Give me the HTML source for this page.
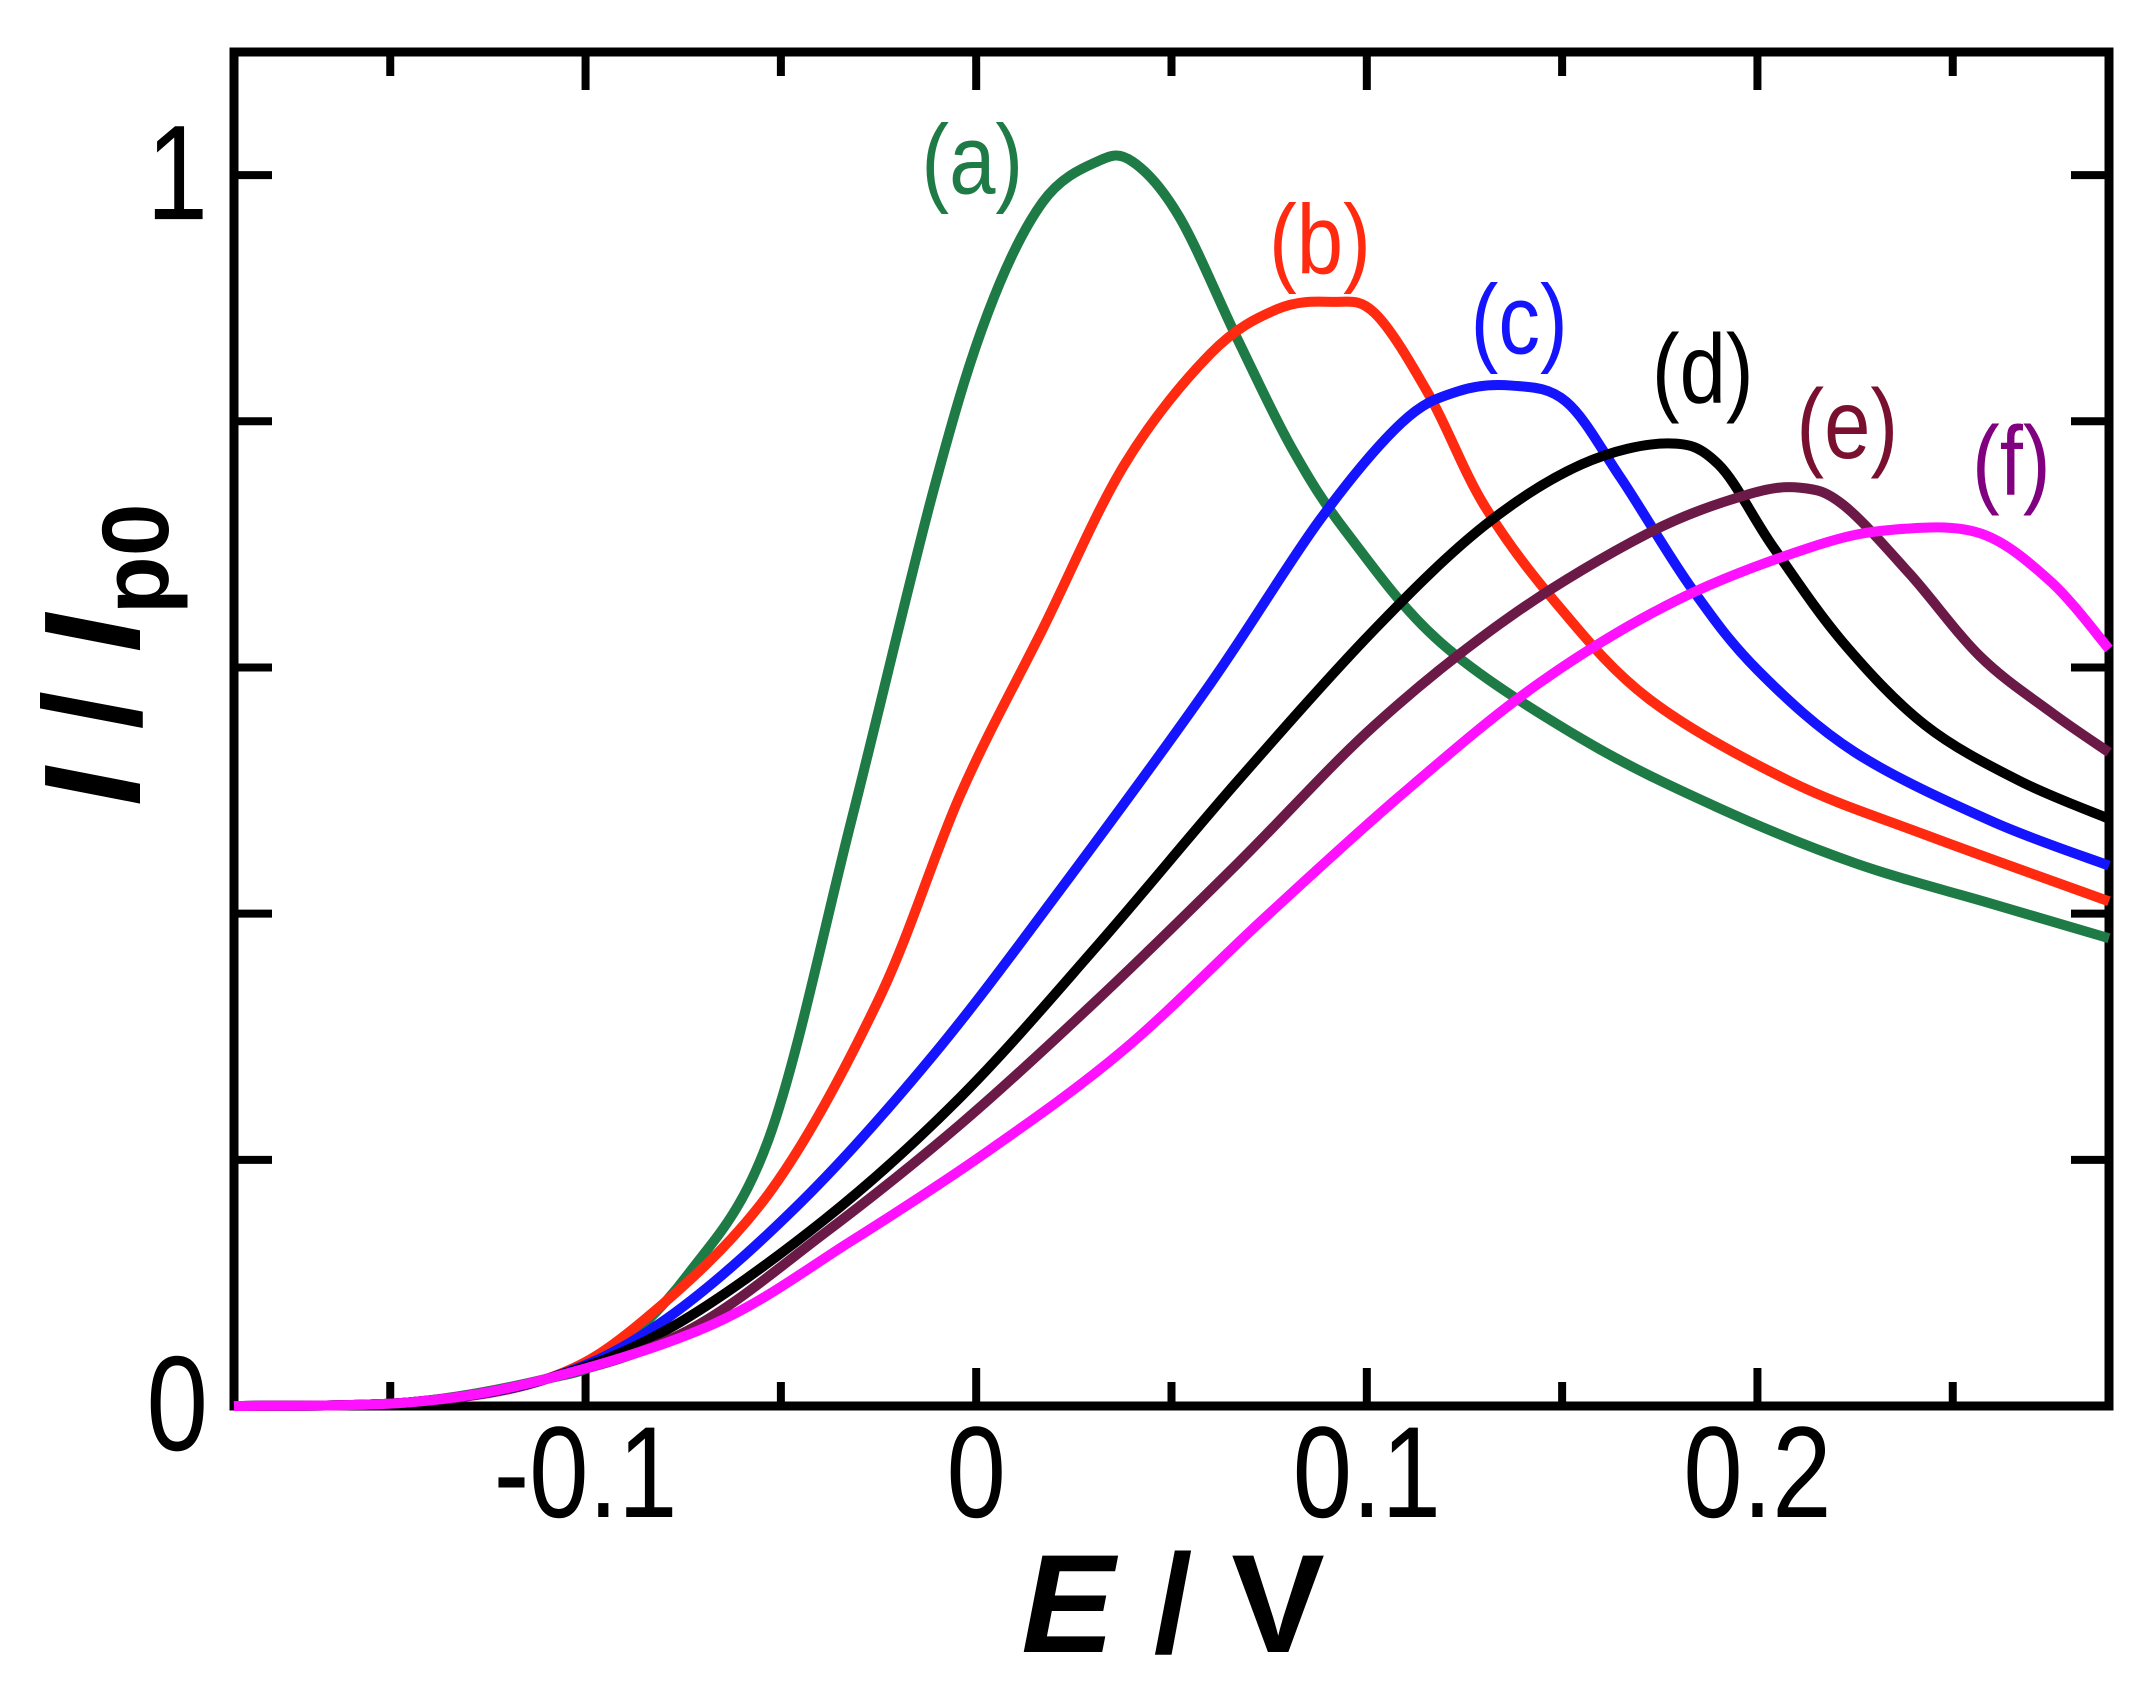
<!DOCTYPE html>
<html><head><meta charset="utf-8"><style>html,body{margin:0;padding:0;background:#fff}svg{display:block}</style></head>
<body>
<svg id="chart" width="2151" height="1693" viewBox="0 0 2151 1693" xmlns="http://www.w3.org/2000/svg" font-family="Liberation Sans, Arial, sans-serif">
<g id="frame"></g>
<g id="ticks"></g>
<g id="curves"></g>
<text x="1173" y="1652" text-anchor="middle" font-size="140" font-weight="bold"><tspan font-style="italic">E</tspan> / V</text>
<text transform="translate(140,806) rotate(-90)" font-size="138" font-weight="bold"><tspan font-style="italic">I</tspan> / <tspan font-style="italic">I</tspan><tspan font-size="95" dy="28">p0</tspan></text>
</svg>
<script>
const xTickValues = [-0.1, 0, 0.1, 0.2];
const xTickLabels = ["-0.1", "0", "0.1", "0.2"];
const xMinorTicks = [-0.15, -0.05, 0.05, 0.15, 0.25];
const yTickValues = [0, 0.2, 0.4, 0.6, 0.8, 1];
const yTickLabels = ["0", "", "", "", "", "1"];
const seriesNames = ["(a)", "(b)", "(c)", "(d)", "(e)", "(f)"];
const seriesColors = ["#1e7b46", "#ff2a10", "#1414ff", "#000000", "#6b1a48", "#ff10ff"];
const labelColors = ["#1e7b46", "#ff2a10", "#1414ff", "#000000", "#7a1030", "#800080"];
const labelX = [-0.001, 0.088, 0.139, 0.186, 0.223, 0.265];
const labelY = [0.985, 0.92, 0.855, 0.815, 0.77, 0.74];
const startE = [-0.19, -0.145, -0.11];
const startI = [0, 0.003, 0.022];
const aE = [-0.095,-0.074,-0.053,-0.032,-0.011,0.003,0.017,0.031,0.040,0.052,0.067,0.081,0.095,0.119,0.155,0.19,0.225,0.26,0.29];
const aI = [0.04,0.106,0.218,0.475,0.743,0.888,0.978,1.011,1.011,0.966,0.866,0.777,0.709,0.62,0.542,0.486,0.441,0.408,0.38];
const bE = [-0.085,-0.053,-0.025,-0.004,0.017,0.038,0.06,0.077,0.091,0.102,0.116,0.13,0.148,0.172,0.208,0.243,0.29];
const bI = [0.07,0.173,0.33,0.497,0.631,0.765,0.855,0.891,0.897,0.888,0.821,0.732,0.654,0.575,0.508,0.464,0.41];
const cE = [-0.081,-0.046,-0.011,0.024,0.06,0.088,0.109,0.123,0.137,0.151,0.165,0.183,0.2,0.225,0.26,0.29];
const cI = [0.067,0.162,0.285,0.43,0.587,0.72,0.799,0.824,0.829,0.816,0.754,0.665,0.598,0.531,0.475,0.439];
const dE = [-0.078,-0.039,-0.004,0.031,0.067,0.102,0.13,0.155,0.177,0.19,0.204,0.222,0.243,0.267,0.29];
const dI = [0.064,0.151,0.251,0.374,0.508,0.631,0.715,0.765,0.782,0.765,0.698,0.62,0.553,0.508,0.477];
const eE = [-0.074,-0.039,-0.004,0.031,0.067,0.102,0.137,0.172,0.197,0.211,0.222,0.239,0.257,0.275,0.29];
const eI = [0.061,0.14,0.229,0.33,0.441,0.553,0.642,0.709,0.74,0.746,0.732,0.676,0.609,0.564,0.531];
const fE = [-0.067,-0.032,0.003,0.038,0.074,0.109,0.144,0.179,0.214,0.235,0.257,0.275,0.29];
const fI = [0.067,0.134,0.207,0.29,0.397,0.497,0.587,0.654,0.698,0.712,0.709,0.67,0.615];

const NS = "http://www.w3.org/2000/svg";
const L = 234, R = 2109, T = 52, B = 1406;
const xMin = -0.19, xMax = 0.29, yMin = 0, yMax = 1.1;
function sx(v){ return L + (v - xMin) / (xMax - xMin) * (R - L); }
function sy(v){ return B - (v - yMin) / (yMax - yMin) * (B - T); }
function mk(tag, attrs, parent){ const e = document.createElementNS(NS, tag); for (const k in attrs) e.setAttribute(k, attrs[k]); parent.appendChild(e); return e; }

const frame = document.getElementById('frame');
const rect = mk('rect', {x:L, y:T, width:R-L, height:B-T, fill:'none', stroke:'#000', 'stroke-width':9}, frame);



const ticks = document.getElementById('ticks');
function condensedText(x, y, anchor, size, str, parent){
  const g = mk('g', {transform:`translate(${x},${y}) scale(0.82,1)`}, parent);
  const t = mk('text', {x:0, y:0, 'text-anchor':anchor, 'font-size':size}, g);
  t.textContent = str;
  return t;
}
xTickValues.forEach((v,i)=>{
  const x = sx(v);
  const t1 = mk('line', {x1:x, x2:x, y1:B, y2:B-38, stroke:'#000', 'stroke-width':8}, ticks);
  
  
  mk('line', {x1:x, x2:x, y1:T, y2:T+38, stroke:'#000', 'stroke-width':8}, ticks);
  const lb = condensedText(x, 1517, 'middle', 130, xTickLabels[i], ticks);
  
  
});
xMinorTicks.forEach(v=>{
  const x = sx(v);
  const t1 = mk('line', {x1:x, x2:x, y1:B, y2:B-24, stroke:'#000', 'stroke-width':8}, ticks);
  
  
  mk('line', {x1:x, x2:x, y1:T, y2:T+24, stroke:'#000', 'stroke-width':8}, ticks);
});
yTickValues.forEach((v,i)=>{
  const y = sy(v);
  const t1 = mk('line', {x1:L, x2:L+38, y1:y, y2:y, stroke:'#000', 'stroke-width':8}, ticks);
  
  
  mk('line', {x1:R, x2:R-38, y1:y, y2:y, stroke:'#000', 'stroke-width':8}, ticks);
  if (yTickLabels[i]) {
    const lb = condensedText(208, y+44, 'end', 135, yTickLabels[i], ticks);
    
    
  }
});

const curves = document.getElementById('curves');
const Es = [aE,bE,cE,dE,eE,fE], Is = [aI,bI,cI,dI,eI,fI];
const keys = ['a','b','c','d','e','f'];
for (let s = 0; s < 6; s++) {
  const xs = startE.concat(Es[s]), ys = startI.concat(Is[s]);
  const P = xs.map((x,i)=>[sx(x), sy(ys[i])]);
  let d = `M${P[0][0]},${P[0][1]}`;
  for (let i = 0; i < P.length-1; i++) {
    const p0 = P[Math.max(0,i-1)], p1 = P[i], p2 = P[i+1], p3 = P[Math.min(P.length-1,i+2)];
    const c1 = [p1[0]+(p2[0]-p0[0])/6, p1[1]+(p2[1]-p0[1])/6];
    const c2 = [p2[0]-(p3[0]-p1[0])/6, p2[1]-(p3[1]-p1[1])/6];
    d += ` C${c1[0]},${c1[1]} ${c2[0]},${c2[1]} ${p2[0]},${p2[1]}`;
  }
  const path = mk('path', {d:d, fill:'none', stroke:seriesColors[s], 'stroke-width':10, 'stroke-linejoin':'round'}, curves);
  
  
}
for (let s = 0; s < 6; s++) {
  const g = mk('g', {transform:`translate(${sx(labelX[s])},${sy(labelY[s])}) scale(0.85,1)`}, curves);
  const t = mk('text', {x:0, y:0, 'text-anchor':'middle', 'font-size':98, fill:labelColors[s]}, g);
  t.textContent = seriesNames[s];
  
  
}
</script>
</body></html>
